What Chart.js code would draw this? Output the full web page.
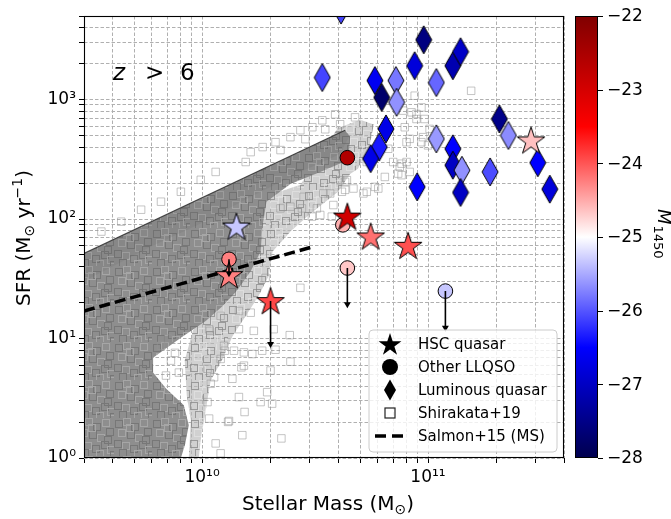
<!DOCTYPE html>
<html>
<head>
<meta charset="utf-8">
<title>SFR vs stellar mass, z > 6</title>
<script src="https://cdn.jsdelivr.net/npm/chart.js@4.4.1/dist/chart.umd.min.js"></script>
<style>
  body { margin: 0; background: #fff; }
  canvas { display: block; }
</style>
</head>
<body>
<canvas id="sfrMass" width="671" height="519"></canvas>
<script>
// axis ranges and ticks
var xMin = 3e9, xMax = 4e11, yMin = 1, yMax = 5000;
var xMajorTicks = [1e10, 1e11];
var yMajorTicks = [1, 10, 100, 1000];
var cbMin = -28, cbMax = -22;
var cbTicks = [-22, -23, -24, -25, -26, -27, -28];

// HSC quasars (stars), log10 values
var hscLogMass = [10.152, 10.119, 10.303, 10.643, 10.746, 10.912, 11.456];
var hscLogSFR  = [1.937, 1.530, 1.313, 2.020, 1.854, 1.776, 2.658];
var hscM1450   = [-25.33, -24.25, -23.92, -22.95, -24.16, -23.97, -24.63];
var hscLimitTo = [null, null, 0.953, null, null, null, null];

// other low-luminosity quasars (circles)
var llqsoLogMass = [10.643, 10.623, 10.643, 11.077, 10.119];
var llqsoLogSFR  = [2.513, 1.951, 1.590, 1.397, 1.663];
var llqsoM1450   = [-22.57, -24.53, -24.67, -25.33, -24.25];
var llqsoLimitTo = [null, null, 1.286, 1.091, 1.546];

// luminous quasars (diamonds)
var lumLogMass = [10.615, 10.532, 10.765, 10.795, 10.858, 10.861, 10.941, 10.981, 11.037, 11.110,
                  11.144, 10.814, 10.784, 10.746, 10.952, 11.037, 11.110, 11.110, 11.150, 11.144,
                  11.275, 11.316, 11.356, 11.486, 11.539];
var lumLogSFR  = [3.749, 3.184, 3.159, 3.017, 3.159, 2.977, 3.283, 3.500, 3.142, 3.283,
                  3.400, 2.754, 2.602, 2.505, 2.269, 2.671, 2.588, 2.450, 2.408, 2.222,
                  2.394, 2.837, 2.699, 2.471, 2.250];
var lumM1450   = [-26.1, -26.1, -26.6, -27.75, -25.8, -25.65, -26.8, -27.57, -25.9, -27.16,
                  -26.97, -26.7, -26.35, -26.7, -26.5, -25.6, -26.5, -27.0, -25.65, -27.0,
                  -26.05, -27.49, -25.68, -26.5, -26.8];

// Salmon+15 main sequence
var msLogMass = [9.477, 10.486];
var msLogSFR  = [1.230, 1.765];

// Shirakata+19 model galaxies: the dense cloud as outlines [logM, logSFR]
var cloudHalo = [[10.237,2.161],[10.435,2.286],[10.600,2.760],[10.700,2.830],[10.760,2.790],[10.740,2.600],
  [10.690,2.420],[10.655,2.377],[10.602,2.228],[10.479,2.045],
  [10.391,1.895],[10.312,1.729],[10.294,1.521],[10.250,1.355],[10.193,1.189],[10.135,1.022],[10.091,0.831],
  [10.038,0.648],[10.016,0.399],[9.994,0.150],[9.985,0],[9.941,0],[9.950,0.316],[9.932,0.524],[9.923,0.815],
  [9.959,1.064],[10.038,1.272],[10.135,1.629]];
var cloudCore = [[9.477,1.712],[10.633,2.743],[10.655,2.690],[10.647,2.494],
  [10.523,2.394],[10.391,2.294],[10.285,2.145],[10.267,1.937],[10.259,1.729],[10.215,1.563],
  [10.153,1.397],[10.091,1.272],[10.016,1.147],[9.906,1.006],[9.783,0.840],[9.783,0.715],[9.840,0.582],
  [9.919,0.441],[9.941,0.274],[9.924,0.108],[9.906,0],[9.477,0]];
var cloudBand = [[9.477,1.712],[10.633,2.743],[10.650,2.690],[10.611,2.544],[10.435,2.394],
  [10.215,2.186],[9.994,1.962],[9.774,1.771],[9.477,1.480]];
var cloudEdge = [[9.477,1.712],[10.633,2.743]];

// Shirakata+19 individual squares outside the dense cloud
var shiraLogMass = [10.435,10.281,10.215,10.163,10.082,10.163,10.229,10.317,10.388,10.031,
  10.097,10.141,10.185,10.222,10.266,10.325,10.391,10.082,10.185,10.024,10.303,10.053,10.134,10.288,
  10.163,10.038,10.259,10.310,10.024,10.031,10.119,10.178,10.351,10.060,10.082,10.188,10.115,10.034,
  10.100,10.174,
  10.641,10.729,10.780,10.633,10.537,10.581,10.508,10.442,10.391,10.347,10.449,10.486,10.523,10.574,
  10.846,10.868,10.919,10.897,10.890,10.949,10.978,10.905,10.824,10.883,10.670,10.729,10.611,
  10.941,10.971,10.927,10.949,10.985,11.007,11.000,10.971,10.919,10.905,10.875,10.883,10.809,10.765,
  10.714,10.633,10.619,10.567,11.191,
  10.215,10.268,10.325,10.391,10.435,10.488,10.532,10.589,10.193,10.347,10.457,10.545,10.611,10.677,
  9.994,10.060,9.906,9.818,9.730,9.642,9.554,
  9.818,9.862,9.897,9.840,9.880,9.850];
var shiraLogSFR = [1.424,1.507,1.216,1.230,1.189,1.078,1.064,1.078,1.028,1.078,
  0.939,0.898,0.884,0.870,0.898,0.906,0.806,0.829,0.773,0.746,0.732,0.676,0.663,0.551,
  0.510,0.621,0.468,0.455,0.468,0.330,0.310,0.191,0.164,0.122,0.039,0.385,0.302,1.064,
  0.898,0.759,
  2.325,2.228,2.255,2.244,2.214,2.117,2.089,2.089,2.103,2.089,2.186,2.020,2.034,2.020,
  2.477,2.380,2.394,2.768,2.907,2.879,2.685,2.643,2.588,2.463,2.255,2.477,2.325,
  3.032,2.934,2.893,2.837,2.837,2.754,2.616,2.643,2.671,2.477,2.436,2.367,2.352,2.269,
  2.214,2.311,2.228,2.214,3.073,
  2.560,2.602,2.643,2.685,2.743,2.768,2.826,2.876,2.477,2.577,2.668,2.751,2.793,2.851,
  2.328,2.394,2.228,2.145,2.078,1.978,1.895,
  0.939,0.815,0.715,0.690,0.880,1.000];

var FONT = 'DejaVu Sans';

// matplotlib "seismic" colormap
var seismicStops = [[0, 0, 0, 0.3], [0.25, 0, 0, 1], [0.5, 1, 1, 1], [0.75, 1, 0, 0], [1, 0.5, 0, 0]];
function stopRgb(s) {
  return 'rgb(' + Math.round(s[1] * 255) + ',' + Math.round(s[2] * 255) + ',' + Math.round(s[3] * 255) + ')';
}
function seismic(m) {
  var t = Math.max(0, Math.min(1, (m - cbMin) / (cbMax - cbMin)));
  for (var i = 1; i < seismicStops.length; i++) {
    if (t <= seismicStops[i][0]) {
      var a = seismicStops[i - 1], b = seismicStops[i];
      var f = (t - a[0]) / (b[0] - a[0]);
      return stopRgb([0, a[1] + (b[1] - a[1]) * f, a[2] + (b[2] - a[2]) * f, a[3] + (b[3] - a[3]) * f]);
    }
  }
  return stopRgb(seismicStops[4]);
}

function starPath(g, cx, cy, R) {
  var r = R * 0.382;
  g.beginPath();
  for (var i = 0; i < 10; i++) {
    var ang = -Math.PI / 2 + i * Math.PI / 5;
    var rr = i % 2 ? r : R;
    g.lineTo(cx + rr * Math.cos(ang), cy + rr * Math.sin(ang));
  }
  g.closePath();
}
function diamondPath(g, cx, cy, w, h) {
  g.beginPath();
  g.moveTo(cx, cy - h / 2);
  g.lineTo(cx + w / 2, cy);
  g.lineTo(cx, cy + h / 2);
  g.lineTo(cx - w / 2, cy);
  g.closePath();
}
function starImage(color) {
  var c = document.createElement('canvas');
  c.width = 34; c.height = 34;
  var g = c.getContext('2d');
  starPath(g, 17, 18, 14.5);
  g.fillStyle = color; g.fill();
  g.lineWidth = 1; g.strokeStyle = '#000'; g.stroke();
  return c;
}
function diamondImage(color) {
  var c = document.createElement('canvas');
  c.width = 18; c.height = 30;
  var g = c.getContext('2d');
  diamondPath(g, 9, 15, 16, 28);
  g.fillStyle = color; g.fill();
  g.lineWidth = 1; g.strokeStyle = '#000'; g.stroke();
  return c;
}
// texture of overlapping open squares for the dense cloud
var meshSquares = [[1,2,0],[9,0,1],[17,5,0],[26,1,1],[30,10,0],[4,11,1],[13,13,0],[21,16,1],[0,22,0],
  [8,24,1],[16,27,0],[25,23,0],[31,28,1],[5,31,0],[20,32,1],[12,6,1],[28,18,0],[34,33,0]];
function meshPattern(base, dark, light) {
  var c = document.createElement('canvas');
  c.width = 38; c.height = 38;
  var g = c.getContext('2d');
  g.fillStyle = base; g.fillRect(0, 0, 38, 38);
  g.lineWidth = 1;
  meshSquares.forEach(function (s) {
    g.strokeStyle = s[2] ? light : dark;
    g.strokeRect(s[0] + 0.5, s[1] + 0.5, 7, 7);
  });
  return c.getContext('2d').createPattern(c, 'repeat');
}

function toPoints(lm, ls) {
  return lm.map(function (m, i) { return {x: Math.pow(10, m), y: Math.pow(10, ls[i])}; });
}
function polyPoints(arr) {
  return arr.map(function (p) { return {x: Math.pow(10, p[0]), y: Math.pow(10, p[1])}; });
}
function logTicks(min, max) {
  var out = [];
  for (var e = Math.floor(Math.log10(min)); e <= Math.ceil(Math.log10(max)); e++) {
    for (var k = 1; k <= 9; k++) {
      var v = k * Math.pow(10, e);
      if (v >= min * 0.999 && v <= max * 1.001) out.push(v);
    }
  }
  return out;
}
var supDigits = {'0': '⁰', '1': '¹', '2': '²', '3': '³', '4': '⁴', '5': '⁵', '6': '⁶', '7': '⁷', '8': '⁸', '9': '⁹'};
function powLabel(v, majors) {
  for (var i = 0; i < majors.length; i++) {
    if (Math.abs(v / majors[i] - 1) < 1e-6) {
      var e = String(Math.round(Math.log10(v)));
      return '10' + e.split('').map(function (d) { return supDigits[d]; }).join('');
    }
  }
  return '';
}

function arrowDataset(lm, from, to) {
  return {
    type: 'line',
    data: [{x: Math.pow(10, lm), y: Math.pow(10, from)}, {x: Math.pow(10, lm), y: Math.pow(10, to)}],
    borderColor: '#000', borderWidth: 1.6,
    pointRadius: [0, 4], pointStyle: 'triangle', pointRotation: 180,
    pointBackgroundColor: '#000', pointBorderColor: '#000', pointBorderWidth: 0,
    order: 0
  };
}

var datasets = [
  {
    type: 'line', label: 'halo', data: polyPoints(cloudHalo), fill: 'shape',
    backgroundColor: meshPattern('rgba(180,180,180,0.62)', 'rgba(135,135,135,0.75)', 'rgba(230,230,230,0.6)'),
    borderColor: 'rgba(0,0,0,0)', borderWidth: 0, pointRadius: 0, order: 9
  },
  {
    type: 'line', label: 'core', data: polyPoints(cloudCore), fill: 'shape',
    backgroundColor: meshPattern('#8e8e8e', '#777777', '#a6a6a6'),
    borderColor: 'rgba(0,0,0,0)', borderWidth: 0, pointRadius: 0, order: 8
  },
  {
    type: 'line', label: 'band', data: polyPoints(cloudBand), fill: 'shape',
    backgroundColor: meshPattern('#878787', '#727272', '#9c9c9c'),
    borderColor: 'rgba(0,0,0,0)', borderWidth: 0, pointRadius: 0, order: 7
  },
  {
    type: 'line', label: 'edge', data: polyPoints(cloudEdge),
    borderColor: 'rgba(50,50,50,0.85)', borderWidth: 1.3, pointRadius: 0, order: 6
  },
  {
    type: 'scatter', label: 'Shirakata+19', data: toPoints(shiraLogMass, shiraLogSFR),
    pointStyle: 'rect', pointRadius: 5.3, borderWidth: 1,
    borderColor: 'rgba(150,150,150,0.55)', backgroundColor: 'rgba(0,0,0,0)', order: 5
  },
  {
    type: 'line', label: 'Salmon+15 (MS)', data: toPoints(msLogMass, msLogSFR),
    borderColor: '#000', borderWidth: 3.5, borderDash: [11, 5], pointRadius: 0, order: 4
  },
  {
    type: 'scatter', label: 'Luminous quasar', data: toPoints(lumLogMass, lumLogSFR),
    pointStyle: lumM1450.map(function (m) { return diamondImage(seismic(m)); }),
    pointRadius: 14, order: 3
  },
  {
    type: 'scatter', label: 'Other LLQSO', data: toPoints(llqsoLogMass, llqsoLogSFR),
    pointStyle: 'circle', pointRadius: 7.3, borderWidth: 1, borderColor: '#000',
    backgroundColor: llqsoM1450.map(seismic), order: 2
  },
  {
    type: 'scatter', label: 'HSC quasar', data: toPoints(hscLogMass, hscLogSFR),
    pointStyle: hscM1450.map(function (m) { return starImage(seismic(m)); }),
    pointRadius: 15, order: 1
  }
];
hscLimitTo.forEach(function (to, i) {
  if (to !== null) datasets.push(arrowDataset(hscLogMass[i], hscLogSFR[i], to));
});
llqsoLimitTo.forEach(function (to, i) {
  if (to !== null) datasets.push(arrowDataset(llqsoLogMass[i], llqsoLogSFR[i], to));
});

function richText(ctx, parts, x, y) {
  var total = 0;
  parts.forEach(function (p) { ctx.font = p.font; p.w = ctx.measureText(p.t).width; total += p.w; });
  var cx = x - total / 2;
  ctx.textAlign = 'left';
  ctx.textBaseline = 'alphabetic';
  parts.forEach(function (p) { ctx.font = p.font; ctx.fillText(p.t, cx, y + (p.dy || 0)); cx += p.w; });
}

var decorations = {
  id: 'decorations',
  afterDatasetsDraw: function (chart) {
    var ctx = chart.ctx, a = chart.chartArea;
    ctx.save();
    ctx.strokeStyle = '#000';
    ctx.lineWidth = 1.1;
    ctx.strokeRect(Math.round(a.left) + 0.5, Math.round(a.top) + 0.5,
      Math.round(a.right - a.left) - 1, Math.round(a.bottom - a.top) - 1);
    ctx.restore();
  },
  afterDraw: function (chart) {
    var ctx = chart.ctx, a = chart.chartArea;
    ctx.save();
    ctx.fillStyle = '#000';

    // redshift label
    ctx.textBaseline = 'alphabetic';
    ctx.textAlign = 'left';
    ctx.font = 'italic 23px ' + FONT;
    ctx.fillText('z', a.left + 29, a.top + 64);
    ctx.font = '23px ' + FONT;
    ctx.fillText('>', a.left + 61, a.top + 64);
    ctx.fillText('6', a.left + 96, a.top + 64);

    // axis titles
    var big = '20px ' + FONT, small = '14px ' + FONT;
    richText(ctx, [
      {t: 'Stellar Mass (M', font: big},
      {t: '⊙', font: small, dy: 4},
      {t: ')', font: big}
    ], (a.left + a.right) / 2 + 4, 510);
    ctx.save();
    ctx.translate(30, (a.top + a.bottom) / 2 + 1);
    ctx.rotate(-Math.PI / 2);
    richText(ctx, [
      {t: 'SFR (M', font: big},
      {t: '⊙', font: small, dy: 4},
      {t: ' yr', font: big},
      {t: '−1', font: small, dy: -8},
      {t: ')', font: big}
    ], 0, 0);
    ctx.restore();

    // colorbar
    var cbL = a.right + 11, cbW = 23, cbT = a.top, cbB = a.bottom;
    var grad = ctx.createLinearGradient(0, cbB, 0, cbT);
    seismicStops.forEach(function (s) { grad.addColorStop(s[0], stopRgb(s)); });
    ctx.fillStyle = grad;
    ctx.fillRect(cbL, cbT, cbW, cbB - cbT);
    ctx.strokeStyle = '#000';
    ctx.lineWidth = 1;
    ctx.strokeRect(cbL + 0.5, cbT + 0.5, cbW - 1, cbB - cbT - 1);
    ctx.fillStyle = '#000';
    ctx.font = '17px ' + FONT;
    ctx.textAlign = 'left';
    ctx.textBaseline = 'middle';
    cbTicks.forEach(function (v) {
      var y = cbB - (v - cbMin) / (cbMax - cbMin) * (cbB - cbT);
      ctx.beginPath();
      ctx.moveTo(cbL + cbW, Math.round(y) + 0.5);
      ctx.lineTo(cbL + cbW + 5, Math.round(y) + 0.5);
      ctx.stroke();
      ctx.fillText(String(v).replace('-', '−'), cbL + cbW + 9, y + 1);
    });
    ctx.save();
    ctx.translate(658, 209);
    ctx.rotate(Math.PI / 2);
    ctx.textBaseline = 'alphabetic';
    ctx.font = 'italic 18px ' + FONT;
    ctx.fillText('M', 0, 0);
    var mw = ctx.measureText('M').width;
    ctx.font = '13px ' + FONT;
    ctx.fillText('1450', mw + 1, 4);
    ctx.restore();

    // legend
    var lx = a.right - 195, ly = a.bottom - 128, lw = 188, lh = 122, rr = 4;
    ctx.beginPath();
    ctx.moveTo(lx + rr, ly);
    ctx.arcTo(lx + lw, ly, lx + lw, ly + lh, rr);
    ctx.arcTo(lx + lw, ly + lh, lx, ly + lh, rr);
    ctx.arcTo(lx, ly + lh, lx, ly, rr);
    ctx.arcTo(lx, ly, lx + lw, ly, rr);
    ctx.closePath();
    ctx.fillStyle = 'rgba(255,255,255,0.8)';
    ctx.fill();
    ctx.strokeStyle = '#cccccc';
    ctx.stroke();

    var names = ['HSC quasar', 'Other LLQSO', 'Luminous quasar', 'Shirakata+19', 'Salmon+15 (MS)'];
    var mx = lx + 21;
    names.forEach(function (name, i) {
      var cy = ly + 14 + i * 23;
      ctx.fillStyle = '#000';
      ctx.strokeStyle = '#000';
      if (i === 0) { starPath(ctx, mx, cy + 1, 12); ctx.fill(); }
      if (i === 1) { ctx.beginPath(); ctx.arc(mx, cy, 8, 0, Math.PI * 2); ctx.fill(); }
      if (i === 2) { diamondPath(ctx, mx, cy, 12, 21); ctx.fill(); }
      if (i === 3) { ctx.lineWidth = 1.2; ctx.strokeStyle = '#222'; ctx.strokeRect(mx - 5, cy - 5, 10, 10); }
      if (i === 4) {
        ctx.lineWidth = 3.5;
        ctx.setLineDash([11, 6]);
        ctx.beginPath(); ctx.moveTo(mx - 15, cy); ctx.lineTo(mx + 17, cy); ctx.stroke();
        ctx.setLineDash([]);
      }
      ctx.font = '15px ' + FONT;
      ctx.textAlign = 'left';
      ctx.textBaseline = 'middle';
      ctx.fillText(name, lx + 49, cy + 1);
    });
    ctx.restore();
  }
};

function axisGrid() {
  return {
    color: '#b0b0b0', lineWidth: 1,
    tickLength: 5, tickColor: '#000', tickWidth: 1, tickBorderDash: []
  };
}

new Chart(document.getElementById('sfrMass'), {
  type: 'scatter',
  data: {datasets: datasets},
  options: {
    responsive: false,
    animation: false,
    events: [],
    layout: {padding: {left: 0, top: 14, right: 107, bottom: 0}},
    plugins: {legend: {display: false}, tooltip: {enabled: false}},
    scales: {
      x: {
        type: 'logarithmic', min: xMin, max: xMax,
        afterBuildTicks: function (scale) {
          scale.ticks = logTicks(xMin, xMax).map(function (v) { return {value: v}; });
        },
        afterFit: function (scale) { scale.height = 61; scale.paddingLeft = 0; scale.paddingRight = 0; },
        ticks: {
          autoSkip: false, maxRotation: 0, padding: 4, color: '#000',
          font: {family: FONT, size: 17},
          callback: function (v) { return powLabel(v, xMajorTicks); }
        },
        grid: axisGrid(),
        border: {display: false, dash: [3.5, 2]}
      },
      y: {
        type: 'logarithmic', min: yMin, max: yMax,
        afterBuildTicks: function (scale) {
          scale.ticks = logTicks(yMin, yMax).map(function (v) { return {value: v}; });
        },
        afterFit: function (scale) { scale.width = 84; scale.paddingTop = 0; scale.paddingBottom = 0; },
        ticks: {
          autoSkip: false, padding: 3, color: '#000',
          font: {family: FONT, size: 17},
          callback: function (v) { return powLabel(v, yMajorTicks); }
        },
        grid: axisGrid(),
        border: {display: false, dash: [3.5, 2]}
      }
    }
  },
  plugins: [decorations]
});
</script>
</body>
</html>
